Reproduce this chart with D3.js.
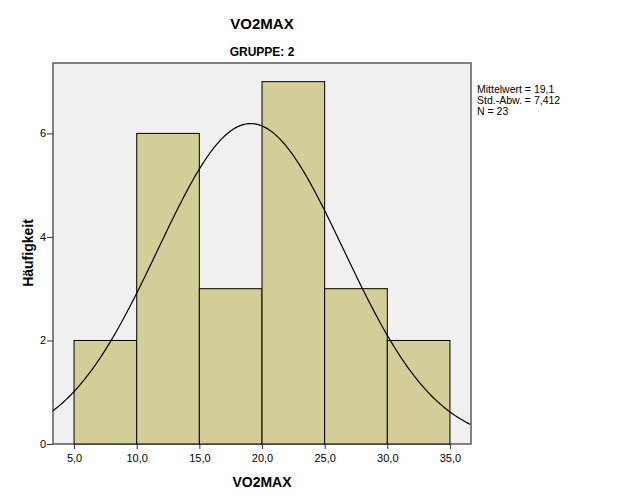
<!DOCTYPE html>
<html>
<head>
<meta charset="utf-8">
<script src="https://cdn.jsdelivr.net/npm/d3@7"></script>
<style>
  body { margin: 0; background: #fff; }
  text { font-family: Arial, "Liberation Sans", sans-serif; }
</style>
</head>
<body>
<svg id="chart"></svg>
<script>
// histogram data (VO2MAX, Gruppe 2)
var binStarts = [5, 10, 15, 20, 25, 30];
var binWidth = 5;
var counts = [2, 6, 3, 7, 3, 2];
var xTicks = [5, 10, 15, 20, 25, 30, 35];
var yTicks = [0, 2, 4, 6];
var meanVal = 19.1;
var sdVal = 7.412;
var nVal = 23;
var statLines = ["Mittelwert = 19,1", "Std.-Abw. = 7,412", "N = 23"];

var width = 629, height = 504;
var plotL = 53, plotR = 471, plotT = 63, plotB = 444;

var svg = d3.select("#chart")
  .attr("width", width)
  .attr("height", height);

var x = d3.scaleLinear().domain([3.32, 36.68]).range([plotL, plotR]);
var y = d3.scaleLinear().domain([0, 7.36]).range([plotB, plotT]);

var fmt = function(d) { return d3.format(".1f")(d).replace(".", ","); };

// plot background
svg.append("rect")
  .attr("x", plotL).attr("y", plotT)
  .attr("width", plotR - plotL).attr("height", plotB - plotT)
  .attr("fill", "#f0f0f0")
  .attr("stroke", "#5a5a5a")
  .attr("stroke-width", 1.5);

// bars
svg.append("g").selectAll("rect")
  .data(counts)
  .enter().append("rect")
  .attr("x", function(d, i) { return x(binStarts[i]); })
  .attr("y", function(d) { return y(d); })
  .attr("width", function(d, i) { return x(binStarts[i] + binWidth) - x(binStarts[i]); })
  .attr("height", function(d) { return y(0) - y(d); })
  .attr("fill", "#d3ce97")
  .attr("stroke", "#000")
  .attr("stroke-width", 1);

// normal curve
var xs = d3.range(3.32, 36.69, 0.1);
var curve = d3.line()
  .x(function(d) { return x(d); })
  .y(function(d) {
    var z = (d - meanVal) / sdVal;
    return y(nVal * binWidth * Math.exp(-0.5 * z * z) / (sdVal * Math.sqrt(2 * Math.PI)));
  });
svg.append("path")
  .datum(xs)
  .attr("d", curve)
  .attr("fill", "none")
  .attr("stroke", "#000")
  .attr("stroke-width", 1.2);

// axes
var xAxis = d3.axisBottom(x).tickValues(xTicks).tickFormat(fmt).tickSize(5).tickSizeOuter(0);
var gx = svg.append("g")
  .attr("transform", "translate(0," + plotB + ")")
  .call(xAxis);
gx.select(".domain").remove();
gx.selectAll("line").attr("stroke", "#333");
gx.selectAll("text").attr("font-size", 11).attr("fill", "#000").attr("dy", "0.9em");

var yAxis = d3.axisLeft(y).tickValues(yTicks).tickSize(6).tickSizeOuter(0);
var gy = svg.append("g")
  .attr("transform", "translate(" + plotL + ",0)")
  .call(yAxis);
gy.select(".domain").remove();
gy.selectAll("line").attr("stroke", "#333");
gy.selectAll("text").attr("font-size", 11).attr("fill", "#000").attr("x", -7);

// titles
svg.append("text")
  .attr("x", 262).attr("y", 29)
  .attr("text-anchor", "middle")
  .attr("font-size", 15).attr("font-weight", "bold")
  .text("VO2MAX");

svg.append("text")
  .attr("x", 262).attr("y", 56)
  .attr("text-anchor", "middle")
  .attr("font-size", 12).attr("font-weight", "bold")
  .text("GRUPPE: 2");

svg.append("text")
  .attr("x", 262).attr("y", 487)
  .attr("text-anchor", "middle")
  .attr("font-size", 14).attr("font-weight", "bold")
  .text("VO2MAX");

svg.append("text")
  .attr("transform", "translate(33,253) rotate(-90)")
  .attr("text-anchor", "middle")
  .attr("font-size", 14).attr("font-weight", "bold")
  .text("Häufigkeit");

// stats box
svg.append("g").selectAll("text")
  .data(statLines)
  .enter().append("text")
  .attr("x", 477)
  .attr("y", function(d, i) { return 93 + i * 11; })
  .attr("font-size", 10.5)
  .text(function(d) { return d; });
</script>
</body>
</html>
